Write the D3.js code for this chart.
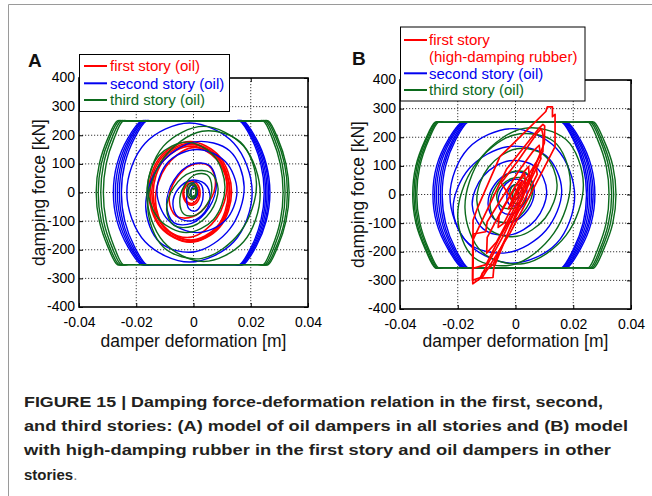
<!DOCTYPE html>
<html>
<head>
<meta charset="utf-8">
<script src="https://cdn.jsdelivr.net/npm/d3@7"></script>
<style>
  body { margin: 0; background: #fff; }
  svg { display: block; }
  text { font-family: "Liberation Sans", Arial, Helvetica, sans-serif; }
</style>
</head>
<body>
<svg id="chart" width="652" height="496"></svg>
<script>
// ---- data ----
const xTicks = [-0.04, -0.02, 0, 0.02, 0.04];
const xTickLabels = ["-0.04", "-0.02", "0", "0.02", "0.04"];
const yTicks = [-400, -300, -200, -100, 0, 100, 200, 300, 400];
const yTickLabels = ["-400", "-300", "-200", "-100", "0", "100", "200", "300", "400"];

const legendA = [["first story (oil)"], ["second story (oil)"], ["third story (oil)"]];
const legendB = [["first story", "(high-damping rubber)"], ["second story (oil)"], ["third story (oil)"]];

// each loop = points [deformation m, force kN] traced round the loop
// (A) first story, oil
const firstA = [
  [[0.0133,2],[0.0091,126],[-0.0012,178],[-0.0115,126],[-0.0157,2],[-0.0115,-122],[-0.0012,-174],[0.0091,-122]],
  [[0.0128,0],[0.0087,122],[-0.0012,172],[-0.0111,122],[-0.0152,0],[-0.0111,-122],[-0.0012,-172],[0.0087,-122]],
  [[0.0126,0],[0.0086,119],[-0.0010,168],[-0.0106,119],[-0.0146,0],[-0.0106,-119],[-0.0010,-168],[0.0086,-119]],
  [[0.0121,-2],[0.0083,114],[-0.0010,162],[-0.0103,114],[-0.0141,-2],[-0.0103,-118],[-0.0010,-166],[0.0083,-118]],
  [[0.0117,27],[0.0080,129],[-0.0008,156],[-0.0096,91],[-0.0133,-27],[-0.0096,-129],[-0.0008,-156],[0.0080,-91]],
  [[0.0077,39],[0.0053,94],[-0.0004,97],[-0.0061,47],[-0.0085,-27],[-0.0061,-82],[-0.0004,-85],[0.0053,-35]],
  [[0.0023,-2],[0.0014,28],[-0.0007,40],[-0.0028,28],[-0.0037,-2],[-0.0028,-32],[-0.0007,-44],[0.0014,-32]],
  [[0.0018,-3],[0.0010,23],[-0.0008,33],[-0.0026,23],[-0.0034,-3],[-0.0026,-28],[-0.0008,-39],[0.0010,-28]],
  [[0.0012,0],[0.0007,18],[-0.0005,26],[-0.0017,18],[-0.0022,0],[-0.0017,-18],[-0.0005,-26],[0.0007,-18]]
];

// (A) second story, oil
const secondA = [
  [[-0.0182,250],[-0.0162,250],[0.0154,250],[0.0174,250],[0.0218,190],[0.0254,100],[0.0267,0],[0.0254,-100],[0.0218,-190],[0.0174,-252],[0.0154,-252],[-0.0162,-252],[-0.0182,-252],[-0.0229,-190],[-0.0267,-100],[-0.0280,0],[-0.0267,100],[-0.0229,190]],
  [[-0.0177,250],[-0.0157,250],[0.0150,250],[0.0170,250],[0.0214,190],[0.0250,100],[0.0262,0],[0.0250,-100],[0.0214,-190],[0.0170,-252],[0.0150,-252],[-0.0157,-252],[-0.0177,-252],[-0.0223,-190],[-0.0260,-100],[-0.0273,0],[-0.0260,100],[-0.0223,190]],
  [[-0.0173,250],[-0.0153,250],[0.0147,250],[0.0167,250],[0.0210,190],[0.0245,100],[0.0257,0],[0.0245,-100],[0.0210,-190],[0.0167,-252],[0.0147,-252],[-0.0153,-252],[-0.0173,-252],[-0.0218,-190],[-0.0253,-100],[-0.0266,0],[-0.0253,100],[-0.0218,190]],
  [[-0.0168,250],[-0.0148,250],[0.0144,250],[0.0164,250],[0.0206,190],[0.0240,100],[0.0252,0],[0.0240,-100],[0.0206,-190],[0.0164,-252],[0.0144,-252],[-0.0148,-252],[-0.0168,-252],[-0.0212,-190],[-0.0247,-100],[-0.0259,0],[-0.0247,100],[-0.0212,190]],
  [[-0.0164,250],[-0.0144,250],[0.0141,250],[0.0161,250],[0.0202,190],[0.0235,100],[0.0247,0],[0.0235,-100],[0.0202,-190],[0.0161,-252],[0.0141,-252],[-0.0144,-252],[-0.0164,-252],[-0.0206,-190],[-0.0240,-100],[-0.0252,0],[-0.0240,100],[-0.0206,190]],
  [[0.0205,0],[0.0141,172],[-0.0014,243],[-0.0169,172],[-0.0233,0],[-0.0169,-172],[-0.0014,-243],[0.0141,-172]],
  [[0.0177,19],[0.0127,145],[0.0005,177],[-0.0117,97],[-0.0167,-49],[-0.0117,-175],[0.0005,-207],[0.0127,-127]],
  [[0.0152,5],[0.0111,108],[0.0012,150],[-0.0087,108],[-0.0128,5],[-0.0087,-98],[0.0012,-140],[0.0111,-98]],
  [[0.0080,33],[0.0055,95],[-0.0007,98],[-0.0069,42],[-0.0094,-43],[-0.0069,-105],[-0.0007,-108],[0.0055,-52]],
  [[0.0058,-15],[0.0039,31],[-0.0007,43],[-0.0053,13],[-0.0072,-40],[-0.0053,-87],[-0.0007,-99],[0.0039,-69]],
  [[0.0034,-5],[0.0026,29],[0.0005,37],[-0.0016,16],[-0.0024,-23],[-0.0016,-57],[0.0005,-65],[0.0026,-44]],
  [[0.0014,0],[0.0010,16],[0.0002,22],[-0.0006,16],[-0.0010,0],[-0.0006,-16],[0.0002,-22],[0.0010,-16]]
];

// (A) third story, oil
const thirdA = [
  [[-0.0266,250],[-0.0246,250],[0.0241,250],[0.0261,250],[0.0294,190],[0.0323,100],[0.0334,0],[0.0323,-100],[0.0294,-190],[0.0261,-252],[0.0241,-252],[-0.0246,-252],[-0.0266,-252],[-0.0299,-190],[-0.0329,-100],[-0.0340,0],[-0.0329,100],[-0.0299,190]],
  [[-0.0260,250],[-0.0240,250],[0.0236,250],[0.0256,250],[0.0289,190],[0.0318,100],[0.0328,0],[0.0318,-100],[0.0289,-190],[0.0256,-252],[0.0236,-252],[-0.0240,-252],[-0.0260,-252],[-0.0293,-190],[-0.0322,-100],[-0.0333,0],[-0.0322,100],[-0.0293,190]],
  [[-0.0253,250],[-0.0233,250],[0.0230,250],[0.0250,250],[0.0282,190],[0.0310,100],[0.0320,0],[0.0310,-100],[0.0282,-190],[0.0250,-252],[0.0230,-252],[-0.0233,-252],[-0.0253,-252],[-0.0285,-190],[-0.0314,-100],[-0.0324,0],[-0.0314,100],[-0.0285,190]],
  [[-0.0246,250],[-0.0226,250],[0.0224,250],[0.0244,250],[0.0275,190],[0.0303,100],[0.0313,0],[0.0303,-100],[0.0275,-190],[0.0244,-252],[0.0224,-252],[-0.0226,-252],[-0.0246,-252],[-0.0277,-190],[-0.0305,-100],[-0.0315,0],[-0.0305,100],[-0.0277,190]],
  [[0.0233,-5],[0.0175,162],[0.0035,231],[-0.0105,162],[-0.0163,-5],[-0.0105,-172],[0.0035,-241],[0.0175,-172]],
  [[0.0220,31],[0.0164,176],[0.0030,214],[-0.0104,121],[-0.0160,-47],[-0.0104,-192],[0.0030,-230],[0.0164,-137]],
  [[0.0110,18],[0.0070,130],[-0.0025,176],[-0.0120,130],[-0.0160,18],[-0.0120,-94],[-0.0025,-140],[0.0070,-94]],
  [[0.0086,12],[0.0060,69],[-0.0004,72],[-0.0068,20],[-0.0094,-58],[-0.0068,-115],[-0.0004,-118],[0.0060,-66]],
  [[0.0064,18],[0.0048,61],[0.0008,63],[-0.0032,24],[-0.0048,-34],[-0.0032,-77],[0.0008,-79],[0.0048,-40]],
  [[0.0012,6],[0.0007,26],[-0.0006,34],[-0.0019,26],[-0.0024,6],[-0.0019,-14],[-0.0006,-22],[0.0007,-14]],
  [[0.0009,5],[0.0005,21],[-0.0004,27],[-0.0013,21],[-0.0017,5],[-0.0013,-11],[-0.0004,-17],[0.0005,-11]],
  [[0.0009,0],[0.0006,11],[0,15],[-0.0006,11],[-0.0009,0],[-0.0006,-11],[0,-15],[0.0006,-11]]
];

// (B) first story, high-damping rubber (corner points of each cycle)
const firstB = [
  [[-0.0148,-312],[-0.0147,-90],[-0.0130,-43],[-0.0054,132],[0.0105,290],[0.0110,306],[0.0128,306],[0.0128,272],[0.0137,280],[0.0137,167],[0.0060,16],[-0.0019,-135],[-0.0113,-287]],
  [[-0.0149,-300],[-0.0148,-160],[-0.0120,-100],[-0.0030,90],[0.0080,230],[0.0095,245],[0.0101,240],[0.0100,180],[0.0040,30],[-0.0040,-140],[-0.0122,-290]],
  [[-0.0147,-258],[-0.0146,-138],[-0.0103,-130],[-0.0098,-95],[0.0010,80],[0.0060,150],[0.0082,172],[0.0088,125],[0.0020,-20],[-0.0060,-160],[-0.0102,-245]],
  [[-0.0117,-292],[-0.0078,-290],[-0.0075,-255],[-0.0020,-120],[0.0040,30],[0.0070,110],[0.0075,70],[0.0000,-80],[-0.0078,-245],[-0.0115,-275]],
  [[-0.0100,-205],[-0.0098,-150],[-0.0040,-40],[0.0030,80],[0.0045,98],[0.0048,60],[-0.0010,-60],[-0.0065,-165]],
  [[-0.0050,40],[0.0010,120],[0.0075,215],[0.0090,230],[0.0096,205],[0.0095,150],[0.0040,60],[-0.0010,-20]],
  [[-0.0060,-115],[-0.0057,-75],[0.0000,30],[0.0032,72],[0.0034,40],[-0.0005,-30],[-0.0040,-100]],
  [[-0.0025,-50],[0.0015,40],[0.0025,48],[-0.0015,-38]]
];

// (B) second story, oil
const secondB = [
  [[-0.0186,253],[-0.0166,253],[0.0159,253],[0.0179,253],[0.0225,190],[0.0262,100],[0.0275,0],[0.0262,-100],[0.0225,-190],[0.0179,-256],[0.0159,-256],[-0.0166,-256],[-0.0186,-256],[-0.0234,-190],[-0.0273,-100],[-0.0286,0],[-0.0273,100],[-0.0234,190]],
  [[-0.0182,253],[-0.0162,253],[0.0155,253],[0.0175,253],[0.0220,190],[0.0256,100],[0.0269,0],[0.0256,-100],[0.0220,-190],[0.0175,-256],[0.0155,-256],[-0.0162,-256],[-0.0182,-256],[-0.0229,-190],[-0.0267,-100],[-0.0280,0],[-0.0267,100],[-0.0229,190]],
  [[-0.0178,253],[-0.0158,253],[0.0151,253],[0.0171,253],[0.0215,190],[0.0251,100],[0.0263,0],[0.0251,-100],[0.0215,-190],[0.0171,-256],[0.0151,-256],[-0.0158,-256],[-0.0178,-256],[-0.0224,-190],[-0.0261,-100],[-0.0274,0],[-0.0261,100],[-0.0224,190]],
  [[-0.0174,253],[-0.0154,253],[0.0147,253],[0.0167,253],[0.0210,190],[0.0245,100],[0.0257,0],[0.0245,-100],[0.0210,-190],[0.0167,-256],[0.0147,-256],[-0.0154,-256],[-0.0174,-256],[-0.0218,-190],[-0.0254,-100],[-0.0267,0],[-0.0254,100],[-0.0218,190]],
  [[-0.0169,253],[-0.0149,253],[0.0143,253],[0.0163,253],[0.0205,190],[0.0239,100],[0.0251,0],[0.0239,-100],[0.0205,-190],[0.0163,-256],[0.0143,-256],[-0.0149,-256],[-0.0169,-256],[-0.0213,-190],[-0.0248,-100],[-0.0260,0],[-0.0248,100],[-0.0213,190]],
  [[-0.0165,253],[-0.0145,253],[0.0140,253],[0.0160,253],[0.0201,190],[0.0234,100],[0.0246,0],[0.0234,-100],[0.0201,-190],[0.0160,-256],[0.0140,-256],[-0.0145,-256],[-0.0165,-256],[-0.0208,-190],[-0.0242,-100],[-0.0254,0],[-0.0242,100],[-0.0208,190]],
  [[0.0205,-5],[0.0142,161],[-0.0011,230],[-0.0164,161],[-0.0227,-5],[-0.0164,-171],[-0.0011,-240],[0.0142,-171]],
  [[0.0160,15],[0.0105,136],[-0.0028,167],[-0.0161,90],[-0.0216,-51],[-0.0161,-172],[-0.0028,-203],[0.0105,-126]],
  [[0.0108,11],[0.0070,96],[-0.0021,118],[-0.0112,64],[-0.0150,-35],[-0.0112,-120],[-0.0021,-142],[0.0070,-88]],
  [[0.0065,13],[0.0042,68],[-0.0015,77],[-0.0072,35],[-0.0095,-33],[-0.0072,-88],[-0.0015,-97],[0.0042,-55]],
  [[0.0040,8],[0.0025,46],[-0.0010,52],[-0.0045,23],[-0.0060,-24],[-0.0045,-62],[-0.0010,-68],[0.0025,-39]],
  [[0.0024,4],[0.0016,28],[-0.0003,34],[-0.0022,19],[-0.0030,-10],[-0.0022,-34],[-0.0003,-40],[0.0016,-25]],
  [[0.0012,0],[0.0008,13],[0,18],[-0.0008,13],[-0.0012,0],[-0.0008,-13],[0,-18],[0.0008,-13]]
];

// (B) third story, oil
const thirdB = [
  [[-0.0278,253],[-0.0258,253],[0.0252,253],[0.0272,253],[0.0306,190],[0.0337,100],[0.0348,0],[0.0337,-100],[0.0306,-190],[0.0272,-256],[0.0252,-256],[-0.0258,-256],[-0.0278,-256],[-0.0313,-190],[-0.0345,-100],[-0.0356,0],[-0.0345,100],[-0.0313,190]],
  [[-0.0275,253],[-0.0255,253],[0.0246,253],[0.0266,253],[0.0299,190],[0.0329,100],[0.0340,0],[0.0329,-100],[0.0299,-190],[0.0266,-256],[0.0246,-256],[-0.0255,-256],[-0.0275,-256],[-0.0310,-190],[-0.0341,-100],[-0.0352,0],[-0.0341,100],[-0.0310,190]],
  [[-0.0271,253],[-0.0251,253],[0.0240,253],[0.0260,253],[0.0293,190],[0.0322,100],[0.0333,0],[0.0322,-100],[0.0293,-190],[0.0260,-256],[0.0240,-256],[-0.0251,-256],[-0.0271,-256],[-0.0305,-190],[-0.0336,-100],[-0.0347,0],[-0.0336,100],[-0.0305,190]],
  [[-0.0267,253],[-0.0247,253],[0.0233,253],[0.0253,253],[0.0285,190],[0.0314,100],[0.0324,0],[0.0314,-100],[0.0285,-190],[0.0253,-256],[0.0233,-256],[-0.0247,-256],[-0.0267,-256],[-0.0301,-190],[-0.0331,-100],[-0.0342,0],[-0.0331,100],[-0.0301,190]],
  [[0.0235,37],[0.0175,192],[0.0030,231],[-0.0115,133],[-0.0175,-47],[-0.0115,-202],[0.0030,-241],[0.0175,-143]],
  [[0.0190,43],[0.0133,185],[-0.0005,208],[-0.0143,99],[-0.0200,-79],[-0.0143,-221],[-0.0005,-244],[0.0133,-135]],
  [[0.0144,34],[0.0103,134],[0.0005,160],[-0.0093,96],[-0.0134,-20],[-0.0093,-120],[0.0005,-146],[0.0103,-82]],
  [[0.0060,23],[0.0038,75],[-0.0014,78],[-0.0066,31],[-0.0088,-39],[-0.0066,-91],[-0.0014,-94],[0.0038,-47]],
  [[0.0055,19],[0.0037,53],[-0.0005,58],[-0.0047,33],[-0.0065,-9],[-0.0047,-43],[-0.0005,-48],[0.0037,-23]],
  [[0.0028,2],[0.0021,26],[0.0004,36],[-0.0013,26],[-0.0020,2],[-0.0013,-22],[0.0004,-32],[0.0021,-22]],
  [[0.0010,0],[0.0007,11],[0,16],[-0.0007,11],[-0.0010,0],[-0.0007,-11],[0,-16],[0.0007,-11]]
];

const captionLines = [
  "FIGURE 15 | Damping force-deformation relation in the first, second,",
  "and third stories: (A) model of oil dampers in all stories and (B) model",
  "with high-damping rubber in the first story and oil dampers in other",
  "stories"
];

// ---- drawing ----
const RED = "#ff0000", BLUE = "#0000f0", GREEN = "#0b6a1c";
const svg = d3.select("#chart");

// frame of the figure box
svg.append("line").attr("x1", 8.5).attr("x2", 652).attr("y1", 4.5).attr("y2", 4.5)
   .attr("stroke", "#9a9a9a");
svg.append("line").attr("x1", 8.5).attr("x2", 8.5).attr("y1", 4.5).attr("y2", 496)
   .attr("stroke", "#9a9a9a");

const smooth = d3.curveCatmullRomClosed.alpha(0.5);

const panels = [
  { id: "A", left: 79, right: 308, top: 78, bottom: 307, letter: [28, 67], ytitleX: 39,
    legend: { x: 79.5, y: 54.5, w: 150, h: 57, rows: [66, 83.3, 100], lineX: [84, 107], textX: 110, items: legendA },
    series: [
      { loops: firstA, color: RED, width: 1.6, curve: smooth },
      { loops: secondA, color: BLUE, width: 1.4, curve: smooth },
      { loops: thirdA, color: GREEN, width: 1.4, curve: smooth }
    ] },
  { id: "B", left: 400, right: 631, top: 80, bottom: 309, letter: [352, 65], ytitleX: 358,
    legend: { x: 400.5, y: 27, w: 184.5, h: 74, rows: [40, 73.3, 90], lineX: [404, 427], textX: 429, items: legendB },
    series: [
      { loops: secondB, color: BLUE, width: 1.4, curve: smooth },
      { loops: thirdB, color: GREEN, width: 1.4, curve: smooth },
      { loops: firstB, color: RED, width: 1.7, curve: d3.curveLinearClosed }
    ] }
];
const legendColors = [RED, BLUE, GREEN];

panels.forEach(p => {
  const x = d3.scaleLinear().domain([-0.04, 0.04]).range([p.left, p.right]);
  const y = d3.scaleLinear().domain([-400, 400]).range([p.bottom, p.top]);
  const g = svg.append("g");

  const clipId = "clip" + p.id;
  g.append("clipPath").attr("id", clipId).append("rect")
    .attr("x", p.left).attr("y", p.top).attr("width", p.right - p.left).attr("height", p.bottom - p.top);

  // dotted grid
  g.append("g").selectAll("line").data(xTicks.slice(1, -1)).join("line")
    .attr("x1", d => x(d)).attr("x2", d => x(d)).attr("y1", p.top).attr("y2", p.bottom)
    .attr("stroke", "#222").attr("stroke-width", 0.9).attr("stroke-dasharray", "1.2,1.8");
  g.append("g").selectAll("line").data(yTicks.slice(1, -1)).join("line")
    .attr("x1", p.left).attr("x2", p.right).attr("y1", d => y(d)).attr("y2", d => y(d))
    .attr("stroke", "#222").attr("stroke-width", 0.9).attr("stroke-dasharray", "1.2,1.8");

  // loops
  const plot = g.append("g").attr("clip-path", `url(#${clipId})`);
  p.series.forEach(s => {
    const line = d3.line().x(d => x(d[0])).y(d => y(d[1])).curve(s.curve);
    plot.append("g").selectAll("path").data(s.loops).join("path")
      .attr("d", line).attr("fill", "none")
      .attr("stroke", s.color).attr("stroke-width", s.width).attr("stroke-linejoin", "round");
  });

  // axes (ticks pointing inward on all four sides)
  const font = '"Liberation Sans", Arial, sans-serif';
  const axL = g.append("g").attr("transform", `translate(${p.left},0)`)
    .call(d3.axisLeft(y).tickValues(yTicks).tickFormat((d, i) => yTickLabels[i]).tickSizeInner(-4).tickSizeOuter(0).tickPadding(4));
  const axB = g.append("g").attr("transform", `translate(0,${p.bottom})`)
    .call(d3.axisBottom(x).tickValues(xTicks).tickFormat((d, i) => xTickLabels[i]).tickSizeInner(-4).tickSizeOuter(0).tickPadding(10));
  const axR = g.append("g").attr("transform", `translate(${p.right},0)`)
    .call(d3.axisRight(y).tickValues(yTicks).tickFormat("").tickSizeInner(-4).tickSizeOuter(0));
  const axT = g.append("g").attr("transform", `translate(0,${p.top})`)
    .call(d3.axisTop(x).tickValues(xTicks).tickFormat("").tickSizeInner(-4).tickSizeOuter(0));
  [axL, axB, axR, axT].forEach(a => {
    a.select(".domain").remove();
    a.attr("font-size", 14).attr("font-family", font);
    a.selectAll("line").attr("stroke", "#000");
    a.selectAll("text").attr("fill", "#000");
  });
  axL.selectAll("text").attr("dy", "0.28em");
  axB.selectAll("text").attr("dy", "0.71em");

  g.append("rect").attr("x", p.left).attr("y", p.top)
    .attr("width", p.right - p.left).attr("height", p.bottom - p.top)
    .attr("fill", "none").attr("stroke", "#000").attr("stroke-width", 1.6);

  // axis titles
  g.append("text").attr("transform", `translate(${p.ytitleX},${(p.top + p.bottom) / 2}) rotate(-90)`)
    .attr("text-anchor", "middle").attr("dy", "0.35em").attr("font-size", 17.5).attr("fill", "#111")
    .text("damping force [kN]");
  g.append("text").attr("x", (p.left + p.right) / 2).attr("y", 347)
    .attr("text-anchor", "middle").attr("font-size", 17.5).attr("fill", "#111")
    .text("damper deformation [m]");

  // legend
  const L = p.legend;
  const lg = g.append("g");
  lg.append("rect").attr("x", L.x).attr("y", L.y).attr("width", L.w).attr("height", L.h)
    .attr("fill", "#fff").attr("stroke", "#000").attr("stroke-width", 1);
  L.items.forEach((lines, i) => {
    lg.append("line").attr("x1", L.lineX[0]).attr("x2", L.lineX[1])
      .attr("y1", L.rows[i]).attr("y2", L.rows[i])
      .attr("stroke", legendColors[i]).attr("stroke-width", 2);
    lines.forEach((t, j) => {
      lg.append("text").attr("x", L.textX).attr("y", L.rows[i] + j * 16.7).attr("dy", "0.35em")
        .attr("font-size", 15).attr("fill", legendColors[i]).text(t);
    });
  });

  // panel letter
  g.append("text").attr("x", p.letter[0]).attr("y", p.letter[1])
    .attr("font-size", 19).attr("font-weight", "bold").attr("fill", "#111").text(p.id);
});

// caption
const capWidths = [579, 604, 587, null];
const cap = svg.append("g").attr("font-size", 15).attr("font-weight", "bold").attr("fill", "#231f20");
captionLines.forEach((t, i) => {
  const tx = cap.append("text").attr("x", 24).attr("y", 407 + i * 24.2).text(t);
  if (capWidths[i]) tx.attr("textLength", capWidths[i]).attr("lengthAdjust", "spacingAndGlyphs");
  if (i === captionLines.length - 1) tx.append("tspan").attr("font-weight", "normal").attr("fill", "#777").text(".");
});
</script>
</body>
</html>
